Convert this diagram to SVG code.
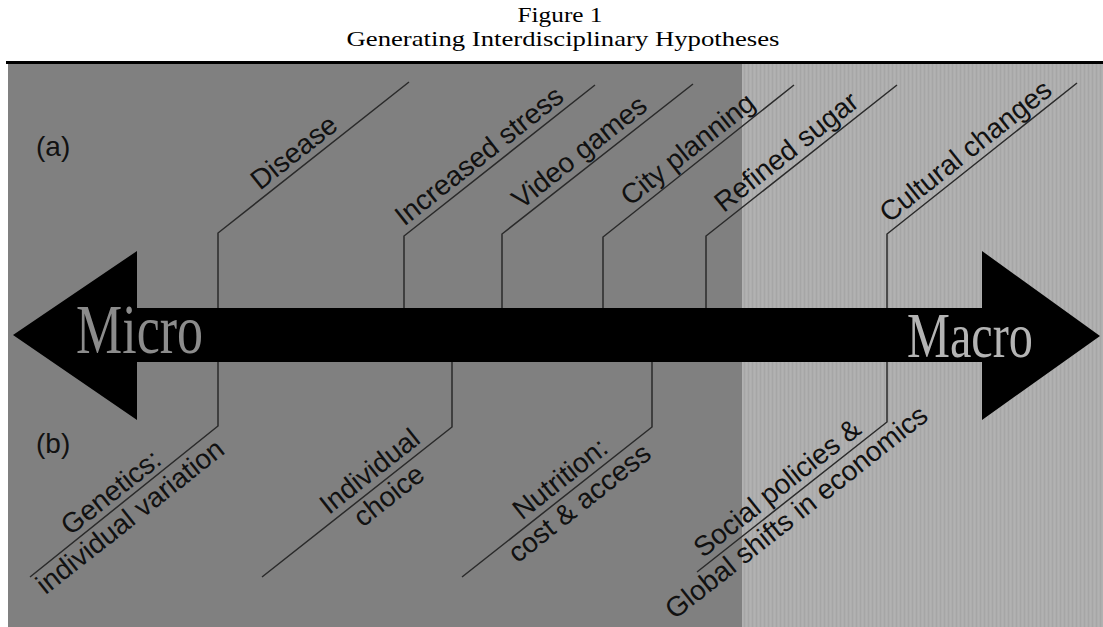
<svg xmlns="http://www.w3.org/2000/svg" width="1103" height="627" viewBox="0 0 1103 627">
<defs>
<pattern id="stripes" x="0" y="0" width="4" height="10" patternUnits="userSpaceOnUse">
<rect x="0" y="0" width="4" height="10" fill="#aeaeae"/>
<rect x="0" y="0" width="1" height="10" fill="#a6a6a6"/>
<rect x="2" y="0" width="1" height="10" fill="#b2b2b2"/>
</pattern>
<style>
.title{font-family:"Liberation Serif","Times New Roman",serif;font-size:21px;fill:#000;text-anchor:middle}
.lbl{font-family:"Liberation Sans",Arial,sans-serif;font-size:28px;fill:#111}
.mid{text-anchor:middle}
.conn{fill:none;stroke:#2a2a2a;stroke-width:1.5}
.big{font-family:"Liberation Serif","Times New Roman",serif}
</style>
</defs>
<rect width="1103" height="627" fill="#ffffff"/>
<g id="title">
<text class="title" x="560" y="22" textLength="85" lengthAdjust="spacingAndGlyphs">Figure 1</text>
<text class="title" x="563" y="46" textLength="433" lengthAdjust="spacingAndGlyphs">Generating Interdisciplinary Hypotheses</text>
</g>
<g id="background">
<rect x="8" y="64" width="734" height="563" fill="#808080"/>
<rect x="742" y="64" width="361" height="563" fill="url(#stripes)"/>
<rect x="6" y="61" width="1097" height="3" fill="#000"/>
</g>
<g id="connectors">
<path class="conn" d="M218,308 V233 L409,82"/>
<path class="conn" d="M404,308 V236 L595,85"/>
<path class="conn" d="M502,308 V234 L693,84"/>
<path class="conn" d="M603,308 V237 L794,85"/>
<path class="conn" d="M706,308 V236 L897,85"/>
<path class="conn" d="M887,308 V234 L1077,83"/>
<path class="conn" d="M218,362 V426 L30,577"/>
<path class="conn" d="M452,362 V427 L262,577"/>
<path class="conn" d="M652,362 V427 L462,577"/>
<path class="conn" d="M887,362 V422 L697,572"/>
</g>
<g id="axis">
<polygon points="13,335 137,251 137,308 982,308 982,251 1100,336 982,420 982,362 137,362 137,420" fill="#000"/>
<text class="big" x="76" y="353" font-size="70" fill="#8c8c8c" textLength="127" lengthAdjust="spacingAndGlyphs">Micro</text>
<text class="big" x="907" y="357" font-size="64" fill="#b4b4b4" textLength="126" lengthAdjust="spacingAndGlyphs">Macro</text>
</g>
<g id="panel-a">
<text class="lbl" x="36" y="156">(a)</text>
</g>
<g id="panel-b">
<text class="lbl" x="36" y="453">(b)</text>
</g>
<g id="node-disease" transform="translate(218,233) rotate(-38.3)"><text class="lbl" x="59" y="-7">Disease</text></g>
<g id="node-stress" transform="translate(404,236) rotate(-38.3)"><text class="lbl" x="6" y="-7">Increased stress</text></g>
<g id="node-video" transform="translate(502,234) rotate(-38.3)"><text class="lbl" x="30" y="-7">Video games</text></g>
<g id="node-city" transform="translate(603,237) rotate(-38.3)"><text class="lbl" x="40" y="-7">City planning</text></g>
<g id="node-sugar" transform="translate(706,236) rotate(-38.3)"><text class="lbl" x="28" y="-7">Refined sugar</text></g>
<g id="node-cultural" transform="translate(887,234) rotate(-38.3)"><text class="lbl" x="8" y="-7">Cultural changes</text></g>
<g id="node-genetics" transform="translate(30,577) rotate(-38.3)"><text class="lbl mid" x="116" y="-7">Genetics:</text><text class="lbl mid" x="116" y="24">individual variation</text></g>
<g id="node-choice" transform="translate(262,577) rotate(-38.3)"><text class="lbl mid" x="150" y="-7">Individual</text><text class="lbl mid" x="150" y="24">choice</text></g>
<g id="node-nutrition" transform="translate(462,577) rotate(-38.3)"><text class="lbl mid" x="138" y="-7">Nutrition:</text><text class="lbl mid" x="138" y="24">cost &amp; access</text></g>
<g id="node-social" transform="translate(697,572) rotate(-38.3)"><text class="lbl mid" x="115" y="-7">Social policies &amp;</text><text class="lbl mid" x="115" y="24">Global shifts in economics</text></g>
</svg>
